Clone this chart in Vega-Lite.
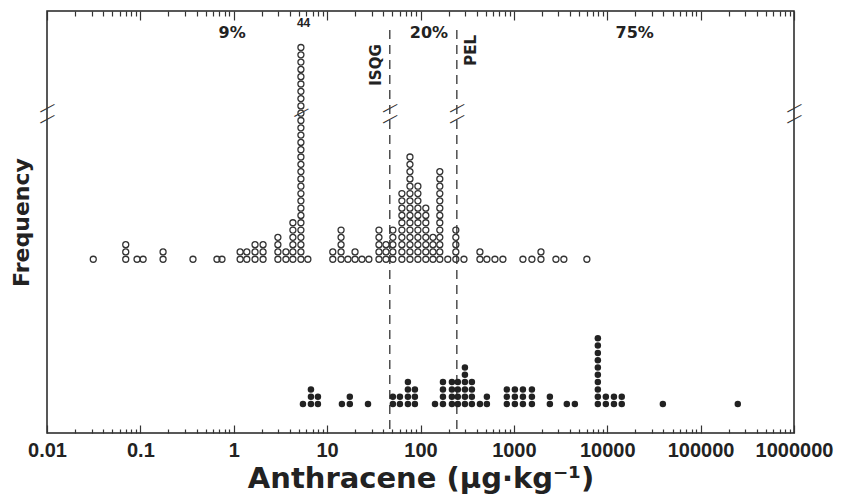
{
  "$schema": "https://vega.github.io/schema/vega-lite/v6.json",
  "width": 747,
  "height": 422,
  "autosize": {"type": "none"},
  "padding": {"left": 47, "top": 11, "right": 50, "bottom": 66},
  "background": "white",
  "config": {
    "view": {"stroke": "#222", "strokeWidth": 1.5},
    "font": "Liberation Sans, sans-serif"
  },
  "datasets": {
    "upper": [
      {"v":0.0313},
      {"v":0.0697},{"v":0.0697},{"v":0.0697},
      {"v":0.0921},
      {"v":0.107},
      {"v":0.175},{"v":0.175},
      {"v":0.366},
      {"v":0.661},
      {"v":0.748},
      {"v":1.17},{"v":1.17},
      {"v":1.38},{"v":1.38},
      {"v":1.69},{"v":1.69},{"v":1.69},
      {"v":2.06},{"v":2.06},{"v":2.06},
      {"v":2.97},{"v":2.97},{"v":2.97},{"v":2.97},
      {"v":3.62},{"v":3.62},
      {"v":4.3},{"v":4.3},{"v":4.3},{"v":4.3},{"v":4.3},{"v":4.3},
      {"v":5.24},{"v":5.24},{"v":5.24},{"v":5.24},{"v":5.24},{"v":5.24},{"v":5.24},{"v":5.24},{"v":5.24},{"v":5.24},
      {"v":5.24},{"v":5.24},{"v":5.24},{"v":5.24},{"v":5.24},{"v":5.24},{"v":5.24},{"v":5.24},{"v":5.24},{"v":5.24},
      {"v":5.24},{"v":5.24},{"v":5.24},{"v":5.24},{"v":5.24},{"v":5.24},{"v":5.24},{"v":5.24},{"v":5.24},{"v":5.24},
      {"v":6.22},
      {"v":11.5},{"v":11.5},
      {"v":14.1},{"v":14.1},{"v":14.1},{"v":14.1},{"v":14.1},
      {"v":16.7},
      {"v":19.9},{"v":19.9},
      {"v":23.6},
      {"v":28},
      {"v":35.9},{"v":35.9},{"v":35.9},{"v":35.9},{"v":35.9},
      {"v":42.7},{"v":42.7},{"v":42.7},
      {"v":50.6},{"v":50.6},{"v":50.6},{"v":50.6},{"v":50.6},
      {"v":63.2},{"v":63.2},{"v":63.2},{"v":63.2},{"v":63.2},{"v":63.2},{"v":63.2},{"v":63.2},{"v":63.2},{"v":63.2},
      {"v":77.1},{"v":77.1},{"v":77.1},{"v":77.1},{"v":77.1},{"v":77.1},{"v":77.1},{"v":77.1},{"v":77.1},{"v":77.1},
      {"v":77.1},{"v":77.1},{"v":77.1},{"v":77.1},{"v":77.1},
      {"v":93.8},{"v":93.8},{"v":93.8},{"v":93.8},{"v":93.8},{"v":93.8},{"v":93.8},{"v":93.8},{"v":93.8},{"v":93.8},
      {"v":93.8},
      {"v":114},{"v":114},{"v":114},{"v":114},{"v":114},{"v":114},{"v":114},{"v":114},
      {"v":136},{"v":136},{"v":136},{"v":136},
      {"v":161},{"v":161},{"v":161},{"v":161},{"v":161},{"v":161},{"v":161},{"v":161},{"v":161},{"v":161},
      {"v":161},{"v":161},{"v":161},
      {"v":196},
      {"v":239},{"v":239},{"v":239},{"v":239},{"v":239},
      {"v":292},
      {"v":433},{"v":433},
      {"v":514},
      {"v":627},
      {"v":763},
      {"v":1250},
      {"v":1560},
      {"v":1950},{"v":1950},
      {"v":2820},
      {"v":3430},
      {"v":6050}
    ],
    "lower": [
      {"v":5.51},
      {"v":6.71},{"v":6.71},{"v":6.71},
      {"v":7.97},{"v":7.97},
      {"v":14.4},
      {"v":17.5},{"v":17.5},
      {"v":27.4},
      {"v":50.6},{"v":50.6},
      {"v":60.2},{"v":60.2},
      {"v":73.3},{"v":73.3},{"v":73.3},{"v":73.3},
      {"v":87.1},{"v":87.1},{"v":87.1},
      {"v":143},
      {"v":174},{"v":174},{"v":174},{"v":174},
      {"v":217},{"v":217},{"v":217},{"v":217},
      {"v":251},{"v":251},{"v":251},{"v":251},
      {"v":299},{"v":299},{"v":299},{"v":299},{"v":299},{"v":299},
      {"v":355},{"v":355},{"v":355},{"v":355},
      {"v":433},
      {"v":514},{"v":514},
      {"v":841},{"v":841},{"v":841},
      {"v":1025},{"v":1025},{"v":1025},
      {"v":1250},{"v":1250},{"v":1250},
      {"v":1560},{"v":1560},{"v":1560},
      {"v":2430},{"v":2430},
      {"v":3690},
      {"v":4500},
      {"v":7930},{"v":7930},{"v":7930},{"v":7930},{"v":7930},{"v":7930},{"v":7930},{"v":7930},{"v":7930},{"v":7930},
      {"v":9660},{"v":9660},
      {"v":11800},{"v":11800},
      {"v":14300},{"v":14300},
      {"v":39400},
      {"v":250000}
    ],
    "guides": [{"name":"ISQG","v":46.9},{"name":"PEL","v":245}],
    "pct": [{"t":"9%","v":0.96,"n":32},{"t":"20%","v":123,"n":32},{"t":"75%","v":19700,"n":32}],
    "n44": [{"t":"44","v":5.6,"n":33.3}],
    "glabels": [{"t":"ISQG","v":33.3,"n":27.6},{"t":"PEL","v":347,"n":29.6}],
    "breaks": [
      {"v":0.01,"n":21.8},{"v":0.01,"n":20.3},
      {"v":1000000,"n":21.8},{"v":1000000,"n":20.3},
      {"v":46.9,"n":21.8},{"v":46.9,"n":20.3},
      {"v":245,"n":21.8},{"v":245,"n":20.3},
      {"v":5.24,"n":21.2}
    ]
  },
  "layer": [
    {
      "data": {"name": "guides"},
      "mark": {"type": "rule", "strokeDash": [9, 6], "strokeWidth": 1.3, "color": "#333"},
      "encoding": {
        "x": {"field": "v", "type": "quantitative", "scale": {"type": "log", "domain": [0.01, 1000000], "nice": false},
          "axis": {"orient": "bottom", "title": null, "labels": false, "domain": false, "grid": false, "tickColor": "#333", "tickWidth": 1.2, "tickSize": -4,
            "values": [0.02,0.03,0.04,0.05,0.06,0.07,0.08,0.09,0.2,0.3,0.4,0.5,0.6,0.7,0.8,0.9,2,3,4,5,6,7,8,9,20,30,40,50,60,70,80,90,200,300,400,500,600,700,800,900,2000,3000,4000,5000,6000,7000,8000,9000,20000,30000,40000,50000,60000,70000,80000,90000,200000,300000,400000,500000,600000,700000,800000,900000]}},
        "y": {"datum": 32.4, "type": "quantitative", "scale": {"domain": [-22.8, 35], "nice": false, "zero": false}, "axis": null},
        "y2": {"datum": -22.8}
      }
    },
    {
      "data": {"name": "upper"},
      "transform": [{"window": [{"op": "row_number", "as": "n"}], "groupby": ["v"]}],
      "mark": {"type": "point", "shape": "circle", "filled": false, "size": 36, "strokeWidth": 1.3, "color": "#333", "opacity": 1},
      "encoding": {
        "x": {
          "field": "v", "type": "quantitative",
          "scale": {"type": "log", "domain": [0.01, 1000000], "nice": false},
          "axis": {
            "orient": "bottom",
            "title": "Anthracene (μg·kg⁻¹)",
            "values": [0.01,0.1,1,10,100,1000,10000,100000,1000000],
            "labelExpr": "datum.value < 1 ? (datum.value < 0.05 ? '0.01' : '0.1') : format(datum.value, 'd')",
            "labelOverlap": false,
            "labelFlush": false,
            "labelFontSize": 20,
            "labelFontWeight": "bold",
            "labelColor": "#222",
            "labelPadding": 15,
            "domain": false,
            "grid": false,
            "tickColor": "#333",
            "tickWidth": 1.2,
            "tickSize": -8,
            "titleFont": "DejaVu Sans",
            "titleFontSize": 29,
            "titleFontWeight": "bold",
            "titleColor": "#222",
            "titlePadding": 4
          }
        },
        "y": {
          "field": "n", "type": "quantitative",
          "scale": {"domain": [-22.8, 35], "nice": false, "zero": false},
          "axis": {"title": "Frequency", "ticks": false, "labels": false, "domain": false, "grid": false, "titleFont": "DejaVu Sans", "titleFontSize": 22, "titleFontWeight": "bold", "titleColor": "#222", "titlePadding": 14}
        }
      }
    },
    {
      "data": {"name": "lower"},
      "transform": [{"window": [{"op": "row_number", "as": "n"}], "groupby": ["v"]}],
      "mark": {"type": "point", "shape": "circle", "filled": true, "size": 42, "color": "#222", "opacity": 1},
      "encoding": {
        "x": {
          "field": "v", "type": "quantitative",
          "scale": {"type": "log", "domain": [0.01, 1000000], "nice": false},
          "axis": {
            "orient": "top", "title": null, "labels": false, "domain": false, "grid": false,
            "values": [0.01,0.1,1,10,100,1000,10000,100000,1000000],
            "tickColor": "#333", "tickWidth": 1.2, "tickSize": -9
          }
        },
        "y": {"field": "n", "type": "quantitative", "scale": {"domain": [-2.97, 54.83], "nice": false, "zero": false}, "axis": null}
      }
    },
    {
      "data": {"name": "pct"},
      "mark": {"type": "text", "font": "DejaVu Sans", "fontSize": 16, "fontWeight": "bold", "color": "#222", "baseline": "middle", "align": "center"},
      "encoding": {
        "x": {"field": "v", "type": "quantitative", "scale": {"type": "log", "domain": [0.01, 1000000], "nice": false},
          "axis": {"orient": "top", "title": null, "labels": false, "domain": false, "grid": false, "tickColor": "#333", "tickWidth": 1.2, "tickSize": -5,
            "values": [0.02,0.03,0.04,0.05,0.06,0.07,0.08,0.09,0.2,0.3,0.4,0.5,0.6,0.7,0.8,0.9,2,3,4,5,6,7,8,9,20,30,40,50,60,70,80,90,200,300,400,500,600,700,800,900,2000,3000,4000,5000,6000,7000,8000,9000,20000,30000,40000,50000,60000,70000,80000,90000,200000,300000,400000,500000,600000,700000,800000,900000]}},
        "y": {"field": "n", "type": "quantitative", "scale": {"domain": [-22.8, 35], "nice": false, "zero": false}, "axis": null},
        "text": {"field": "t"}
      }
    },
    {
      "data": {"name": "n44"},
      "mark": {"type": "text", "fontSize": 12, "fontWeight": "bold", "color": "#222", "baseline": "middle", "align": "center"},
      "encoding": {
        "x": {"field": "v", "type": "quantitative", "scale": {"type": "log", "domain": [0.01, 1000000], "nice": false}, "axis": null},
        "y": {"field": "n", "type": "quantitative", "scale": {"domain": [-22.8, 35], "nice": false, "zero": false}, "axis": null},
        "text": {"field": "t"}
      }
    },
    {
      "data": {"name": "glabels"},
      "mark": {"type": "text", "font": "DejaVu Sans", "fontSize": 15, "fontWeight": "bold", "color": "#222", "baseline": "middle", "align": "center", "angle": 270},
      "encoding": {
        "x": {"field": "v", "type": "quantitative", "scale": {"type": "log", "domain": [0.01, 1000000], "nice": false}, "axis": null},
        "y": {"field": "n", "type": "quantitative", "scale": {"domain": [-22.8, 35], "nice": false, "zero": false}, "axis": null},
        "text": {"field": "t"}
      }
    },
    {
      "data": {"name": "breaks"},
      "mark": {"type": "text", "text": "—", "fontSize": 16, "color": "#333", "baseline": "middle", "align": "center", "angle": -28},
      "encoding": {
        "x": {"field": "v", "type": "quantitative", "scale": {"type": "log", "domain": [0.01, 1000000], "nice": false}, "axis": null},
        "y": {"field": "n", "type": "quantitative", "scale": {"domain": [-22.8, 35], "nice": false, "zero": false}, "axis": null}
      }
    }
  ],
  "resolve": {"scale": {"y": "independent"}, "axis": {"x": "independent", "y": "independent"}}
}
